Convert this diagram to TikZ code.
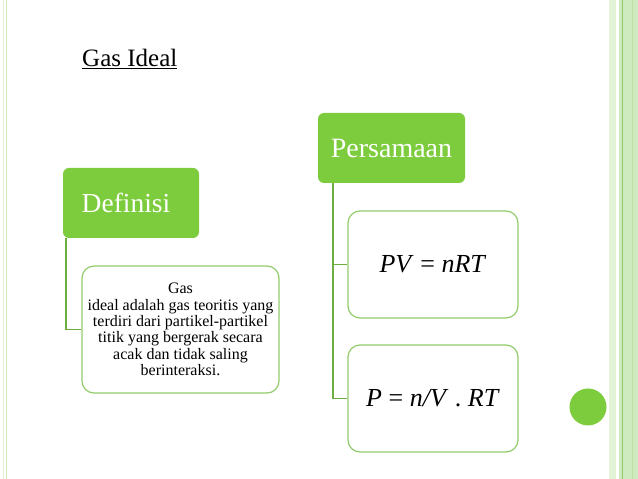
\documentclass[tikz,border=0pt]{standalone}
\usepackage{fontspec}
\setmainfont{Liberation Serif}
\newfontfamily\gasfont{Liberation Serif}
\definecolor{headgreen}{HTML}{7CCC3E}
\definecolor{boxgreen}{HTML}{92CC6A}
\definecolor{linegreen}{HTML}{6EAD40}
\definecolor{stripgreen}{HTML}{CDEBBE}
\definecolor{palegreen}{HTML}{E2F3D8}
\begin{document}
\begin{tikzpicture}[x=1pt, y=1pt,
	head/.style={fill=headgreen, rounded corners=6pt, minimum width=136pt, minimum height=70pt, inner sep=0pt, text=white, font=\gasfont\fontsize{28}{32}\selectfont},
	item/.style={draw=boxgreen, line width=1.2pt, fill=white, rounded corners=12pt, minimum width=170pt, minimum height=107pt, inner sep=0pt, align=center},
	branch/.style={draw=linegreen, line width=1.4pt}]
	%frame
	\useasboundingbox (0,0) rectangle (638,479);
	\fill[white] (0,0) rectangle (638,479);
	\draw[palegreen, line width=1pt] (3,0) -- (3,479);
	\draw[stripgreen, line width=1pt] (6,0) -- (6,479);
	\fill[palegreen] (609,0) rectangle (616,479);
	\fill[stripgreen] (619,0) rectangle (638,479);
	\draw[boxgreen, line width=1pt] (622,0) -- (622,479);
	\draw[boxgreen!60, line width=0.8pt] (632,0) -- (632,479);
	%title
	\node[anchor=base west, inner sep=0pt, font=\gasfont\fontsize{25}{29}\selectfont] (title) at (82,412) {\underline{Gas Ideal}};
	%left branch
	\node[head, font=\gasfont\fontsize{27.5}{32}\selectfont] (def) at (131,276) {\hspace*{-10pt}Definisi};
	\node[item, minimum width=197pt, minimum height=127pt, font=\gasfont\fontsize{16}{16.4}\selectfont] (desc) at (180.5,149.5)
	{Gas\\ideal adalah gas teoritis yang\\terdiri dari partikel-partikel\\titik yang bergerak secara\\acak dan tidak saling\\berinteraksi.};
	\draw[branch] ([xshift=3pt]def.south west) |- (desc.west);
	%right branch
	\node[head, minimum width=147pt] (pers) at (391.5,331) {Persamaan};
	\node[item, font=\gasfont\fontsize{26}{30}\selectfont] (pv) at (433,214.5) {\textit{PV} = \textit{nRT}};
	\node[item, font=\gasfont\fontsize{26}{30}\selectfont] (ideal) at (433,80.5) {\textit{P} = \textit{n/V} . \textit{RT}};
	\draw[branch] ([xshift=15pt]pers.south west) |- (pv.west);
	\draw[branch] ([xshift=15pt]pers.south west) |- (ideal.west);
	%dot
	\fill[headgreen] (588,72) circle (18.5);
\end{tikzpicture}
\end{document}
